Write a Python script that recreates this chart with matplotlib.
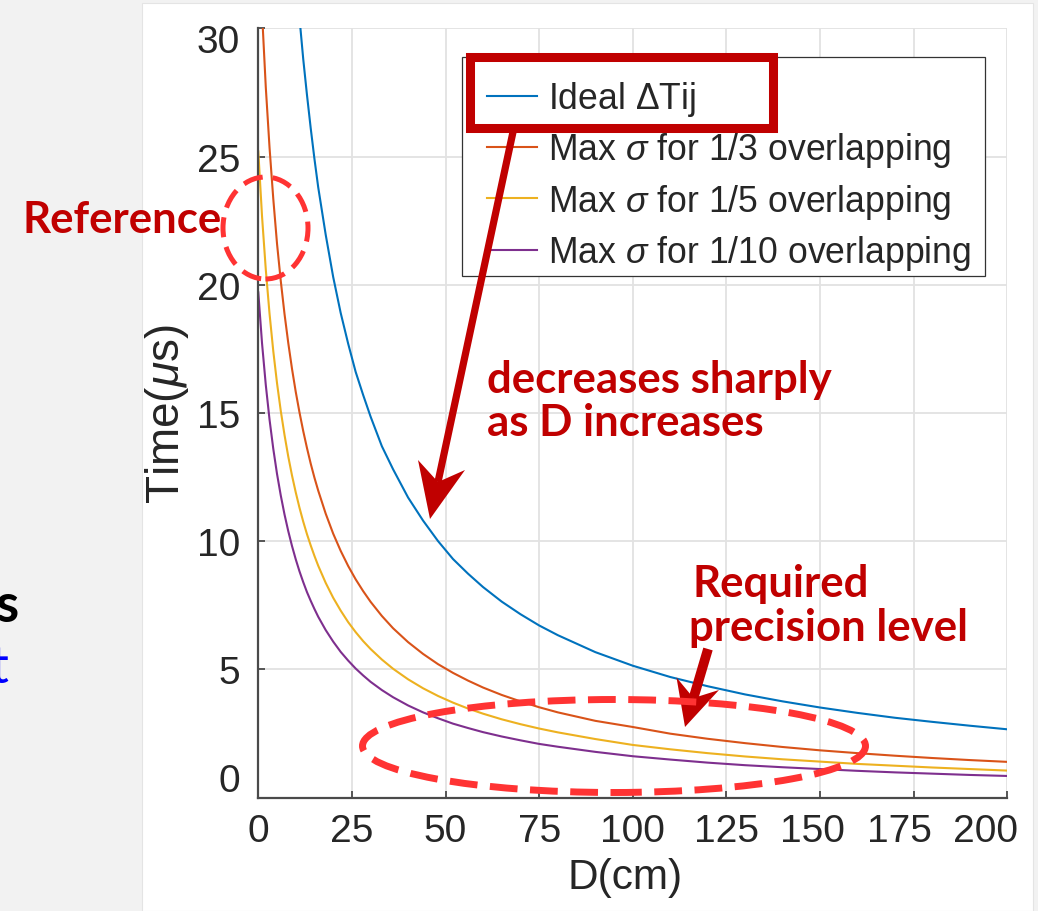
import matplotlib
matplotlib.use("Agg")
import matplotlib.pyplot as plt
import matplotlib.transforms as mtransforms
from matplotlib.patches import Ellipse, Rectangle, Polygon
from matplotlib.lines import Line2D

W, H = 1038, 912

# values (D in cm, time in microseconds)
D = [0, 1, 2, 3, 4, 5, 6, 7, 8, 9, 10, 11, 12, 13, 14, 15, 16,
     18, 20, 22, 24, 26, 28, 30, 33, 36, 40, 44, 48, 52, 56, 60,
     65, 70, 75, 80, 90, 100, 110, 120, 130, 140, 150, 160, 170, 180, 190, 200]

# the ideal curve only comes into view below 30 us, so it starts at D = 8
D_ideal = D[8:]
ideal = [36.5, 34.2, 32.2, 30.4, 28.8, 27.4, 26.1, 24.9, 23.8,
         21.95, 20.3, 18.9, 17.7, 16.6, 15.7, 14.85, 13.7, 12.8,
         11.7, 10.8, 10.0, 9.3, 8.73, 8.21, 7.64, 7.15, 6.71, 6.33,
         5.67, 5.14, 4.70, 4.34, 4.02, 3.75, 3.51, 3.30, 3.11, 2.95, 2.80, 2.66]
sigma_3 = [34.2, 30.6, 27.7, 25.35, 23.35, 21.6, 20.15, 18.86, 17.73, 16.72, 15.82, 15.02,
           14.29, 13.63, 13.02, 12.47, 11.97,
           11.07, 10.29, 9.62, 9.03, 8.51, 8.05, 7.63, 7.08, 6.60, 6.06, 5.60, 5.20, 4.86, 4.56, 4.29,
           4.00, 3.75, 3.52, 3.32, 2.99, 2.75, 2.49, 2.29, 2.12, 1.97, 1.84, 1.73, 1.63, 1.54, 1.46, 1.39]
sigma_5 = [25.2, 22.66, 20.59, 18.87, 17.41, 16.16, 15.08, 14.14, 13.30, 12.56, 11.90, 11.30,
           10.76, 10.27, 9.83, 9.42, 9.04,
           8.37, 7.79, 7.29, 6.84, 6.45, 6.10, 5.79, 5.38, 5.02, 4.61, 4.26, 3.96, 3.70, 3.47, 3.27,
           3.05, 2.86, 2.69, 2.54, 2.28, 2.05, 1.88, 1.73, 1.60, 1.49, 1.40, 1.31, 1.24, 1.17, 1.11, 1.05]
sigma_10 = [19.7, 17.71, 16.09, 14.74, 13.60, 12.62, 11.78, 11.04, 10.39, 9.81, 9.29, 8.82,
            8.40, 8.01, 7.67, 7.35, 7.05,
            6.53, 6.08, 5.68, 5.34, 5.03, 4.76, 4.51, 4.19, 3.91, 3.59, 3.32, 3.09, 2.88, 2.71, 2.55,
            2.38, 2.23, 2.09, 1.98, 1.78, 1.61, 1.48, 1.36, 1.26, 1.18, 1.11, 1.04, 0.98, 0.93, 0.88, 0.84]

labels = [r'Ideal $\Delta$Tij',
          r'Max $\sigma$ for 1/3 overlapping',
          r'Max $\sigma$ for 1/5 overlapping',
          r'Max $\sigma$ for 1/10 overlapping']
colors = ['#0072BD', '#D95319', '#EDB120', '#7E2F8E']

x_ticks = [0, 25, 50, 75, 100, 125, 150, 175, 200]
y_ticks = [0, 5, 10, 15, 20, 25, 30]

plt.rcParams['font.family'] = ['Liberation Sans', 'DejaVu Sans']
plt.rcParams['mathtext.fontset'] = 'custom'
plt.rcParams['mathtext.rm'] = 'Liberation Sans'
plt.rcParams['mathtext.it'] = 'Liberation Sans:italic'

fig = plt.figure(figsize=(W / 100, H / 100), dpi=100, facecolor='#f2f2f2')


def fx(x):
    return x / W


def fy(y):
    return 1 - y / H


# white slide panel behind the chart
fig.add_artist(Rectangle((fx(142), 0), fx(1033) - fx(142), fy(4), transform=fig.transFigure,
                         facecolor='white', edgecolor='#e4e4e4', lw=0.8, zorder=-5))

ax = fig.add_axes([fx(258.3), fy(798.5), fx(1007.2) - fx(258.3), fy(29.3) - fy(798.5)])
ax.set_facecolor('none')

lines = []
lines += ax.plot(D_ideal, ideal, color=colors[0], lw=1.5)
lines += ax.plot(D, sigma_3, color=colors[1], lw=1.5)
lines += ax.plot(D, sigma_5, color=colors[2], lw=1.5)
lines += ax.plot(D, sigma_10, color=colors[3], lw=1.5)

ax.set_xlim(0, 200)
ax.set_ylim(0, 30)
ax.set_xticks(x_ticks)
ax.set_yticks(y_ticks)
ax.grid(True, color='#e2e2e2', lw=1.3)
ax.set_axisbelow(True)
for s in ['top', 'right']:
    ax.spines[s].set_visible(False)
for s in ['left', 'bottom']:
    ax.spines[s].set_color('#4a4a4a')
    ax.spines[s].set_linewidth(1.6)
ax.tick_params(axis='both', direction='in', length=5, width=1.3, color='#4a4a4a',
               labelsize=28, labelcolor='#262626')
ax.tick_params(axis='x', pad=11)
ax.tick_params(axis='y', pad=13)

ax.set_xlabel('D(cm)', fontsize=30.5, color='#262626')
ax.xaxis.set_label_coords(0.49, -0.077)
ax.xaxis.label.set_va('top')
ax.set_ylabel(r'Time($\mu$s)', fontsize=33, color='#262626')
ax.yaxis.set_label_coords(-0.09, 0.5)

# legend: white box drawn on its own so it lands where the source has it
fig.add_artist(Rectangle((fx(462), fy(277)), fx(985) - fx(462), fy(58) - fy(277),
                         transform=fig.transFigure, facecolor='white', edgecolor='#333333',
                         lw=0.9, zorder=4))
leg = fig.legend(lines, labels, loc='upper left', bbox_to_anchor=(fx(487), fy(80)),
                 bbox_transform=fig.transFigure, fontsize=25.7, frameon=False,
                 handlelength=1.4, handletextpad=0.3, labelspacing=0.35,
                 borderpad=0, borderaxespad=0)
leg.set_zorder(5)
for t in leg.get_texts():
    t.set_color('#262626')

# tick labels sit a little off their ticks in the source figure
x_shift = {150: -8, 175: -14, 200: -22}
for tick, loc in zip(ax.xaxis.get_major_ticks(), x_ticks):
    dx = x_shift.get(loc, 0)
    if dx:
        tick.label1.set_transform(tick.label1.get_transform()
                                  + mtransforms.ScaledTranslation(dx / 100, 0, fig.dpi_scale_trans))
y_shift = {0: 20, 30: -10}
for tick, loc in zip(ax.yaxis.get_major_ticks(), y_ticks):
    dy = y_shift.get(loc, 0)
    if dy:
        tick.label1.set_transform(tick.label1.get_transform()
                                  + mtransforms.ScaledTranslation(0, dy / 100, fig.dpi_scale_trans))

# slide annotations
dark_red = '#C00000'
light_red = '#ff3333'
ann_font = ['Lato', 'DejaVu Sans']

fig.add_artist(Rectangle((fx(469.5), fy(128.5)), fx(772.5) - fx(469.5), fy(57.5) - fy(128.5),
                         transform=fig.transFigure, fill=False, edgecolor=dark_red,
                         lw=6.5, joinstyle='miter', zorder=6))

# arrow from the legend box down to the blue curve
fig.add_artist(Line2D([fx(513), fx(438)], [fy(133), fy(483)], transform=fig.transFigure,
                      color=dark_red, lw=5.2, solid_capstyle='butt', zorder=6))
fig.add_artist(Polygon([(fx(430), fy(520)), (fx(465), fy(471)), (fx(438), fy(483)),
                        (fx(418), fy(461))], closed=True, transform=fig.transFigure,
                       facecolor=dark_red, edgecolor='none', zorder=6))

# arrow into the dashed ellipse
fig.add_artist(Line2D([fx(708), fx(693.5)], [fy(650), fy(699)], transform=fig.transFigure,
                      color=dark_red, lw=7, solid_capstyle='butt', zorder=6))
fig.add_artist(Polygon([(fx(685), fy(728)), (fx(719), fy(691)), (fx(693.5), fy(699)),
                        (fx(676.5), fy(678.5))], closed=True, transform=fig.transFigure,
                       facecolor=dark_red, edgecolor='none', zorder=6))

fig.add_artist(Ellipse((fx(265.5), fy(229)), fx(85), 102 / H, transform=fig.transFigure,
                       fill=False, edgecolor=light_red, lw=3.6, linestyle=(0, (4, 2)), zorder=6))
fig.add_artist(Ellipse((fx(614), fy(747)), fx(503), 93 / H, transform=fig.transFigure,
                       fill=False, edgecolor=light_red, lw=5, linestyle=(0, (4, 1.8)), zorder=6))

ann = dict(color=dark_red, fontsize=31.5, fontweight='bold', family=ann_font,
           ha='left', va='baseline')
fig.text(fx(22), fy(233), 'Reference', **ann)
fig.text(fx(487), fy(393), 'decreases sharply', **ann)
fig.text(fx(487), fy(436), 'as D increases', **ann)
fig.text(fx(693), fy(597), 'Required', **ann)
fig.text(fx(689), fy(641), 'precision level', **ann)

# cut-off slide text at the left edge
fig.text(fx(19), fy(622), 's', color='black', fontsize=38, fontweight='bold',
         family=ann_font, ha='right', va='baseline')
fig.text(fx(9), fy(683), 't', color='#0000ff', fontsize=38,
         family=ann_font, ha='right', va='baseline')

fig.savefig('out.png', dpi=100, facecolor=fig.get_facecolor())
